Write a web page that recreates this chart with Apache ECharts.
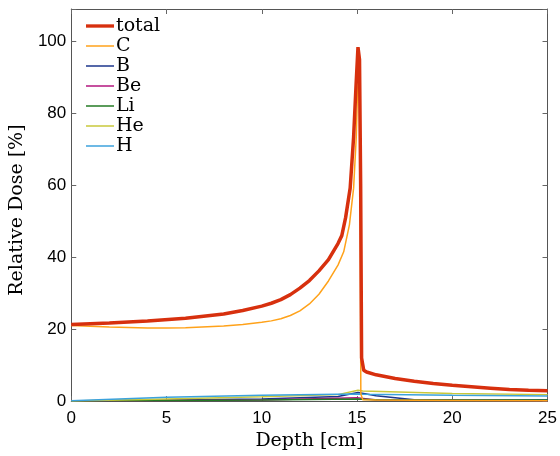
<!DOCTYPE html>
<html><head><meta charset="utf-8">
<script src="https://cdn.jsdelivr.net/npm/echarts@6/dist/echarts.min.js"></script>
<style>html,body{margin:0;padding:0;background:#fff}#c{width:560px;height:456px}</style>
</head><body><div id="c"></div>
<script>
var xTicks = [0, 5, 10, 15, 20, 25];
var yTicks = [0, 20, 40, 60, 80, 100];
var seriesNames = ['total', 'C', 'B', 'Be', 'Li', 'He', 'H'];

var totalDepth = [0, 2, 4, 6, 8, 9, 10, 10.5, 11, 11.5, 12, 12.5, 13, 13.5, 14, 14.2, 14.4, 14.64, 14.82, 14.95, 15.05, 15.13, 15.19, 15.24, 15.35, 15.5, 16, 17, 18, 19, 20, 21, 22, 23, 24, 25];
var totalDose  = [21.3, 21.7, 22.3, 23.0, 24.2, 25.2, 26.4, 27.2, 28.2, 29.6, 31.4, 33.5, 36.2, 39.3, 43.8, 46.0, 51.0, 59.2, 73.4, 88.0, 98.4, 95.0, 60.0, 12.0, 8.6, 8.1, 7.3, 6.3, 5.5, 4.9, 4.4, 4.0, 3.6, 3.2, 3.0, 2.9];

var cDepth = [0, 2, 4, 5, 6, 8, 9, 10, 10.5, 11, 11.5, 12, 12.5, 13, 13.5, 14, 14.3, 14.6, 14.82, 14.96, 15.02, 15.06, 15.12, 15.16, 15.2, 15.3, 16, 20, 25];
var cDose  = [21.0, 20.6, 20.3, 20.3, 20.4, 20.9, 21.3, 21.9, 22.3, 22.9, 23.8, 25.1, 27.0, 29.7, 33.4, 37.8, 41.5, 49.0, 59.2, 73.4, 85.0, 89.8, 87.0, 60.0, 2.0, 0.4, 0.3, 0.2, 0.1];

var bDepth = [0, 5, 10, 14, 15.05, 16, 18, 20, 25];
var bDose  = [0, 0.3, 0.6, 1.3, 2.4, 1.5, 0.4, 0.3, 0.3];

var beDepth = [0, 10, 15, 16, 25];
var beDose  = [0, 0.3, 0.9, 0.3, 0.2];

var liDepth = [0, 10, 15, 16, 25];
var liDose  = [0, 0.3, 0.6, 0.4, 0.3];

var heDepth = [0, 5, 10, 14, 15.05, 15.3, 20, 25];
var heDose  = [0, 0.6, 1.2, 1.8, 3.0, 2.8, 2.1, 1.8];

var hDepth = [0, 5, 10, 15, 15.3, 20, 25];
var hDose  = [0.1, 1.1, 1.6, 2.0, 1.9, 1.6, 1.4];

function pairs(xs, ys) { return xs.map(function (x, i) { return [x, ys[i]]; }); }

var colors = ['#D7300E', '#FFA21A', '#1B358C', '#B3157F', '#237A23', '#C9C83A', '#3BA2DC'];
var dataSets = [pairs(totalDepth, totalDose), pairs(cDepth, cDose), pairs(bDepth, bDose), pairs(beDepth, beDose), pairs(liDepth, liDose), pairs(heDepth, heDose), pairs(hDepth, hDose)];

var thickIcon = 'path://M0,0 M30,0 M0,8.2 L30,8.2 L30,11.8 L0,11.8 Z M0,20 M30,20';
var thinIcon  = 'path://M0,0 M30,0 M0,9.2 L30,9.2 L30,10.8 L0,10.8 Z M0,20 M30,20';

var series = seriesNames.map(function (n, i) {
  return {
    name: n, type: 'line', data: dataSets[i], symbol: 'none', smooth: false,
    xAxisIndex: 0, yAxisIndex: 0,
    z: i === 0 ? 5 : (i === 1 ? 4 : 3),
    lineStyle: { color: colors[i], width: i === 0 ? 3.5 : 1.5 },
    itemStyle: { color: colors[i] },
    animation: false
  };
});

var axisLineStyle = { show: true, onZero: false, lineStyle: { color: '#555', width: 1 } };
var tickStyle = { show: true, inside: true, length: 5, lineStyle: { color: '#666' } };
var serif = 'DejaVu Serif';

var chart = echarts.init(document.getElementById('c'), null, { renderer: 'canvas' });
chart.setOption({
  animation: false,
  grid: { left: 70, right: 12, top: 9, bottom: 47, containLabel: false },
  legend: {
    orient: 'vertical', left: 81, top: 11, itemWidth: 28, itemHeight: 20, itemGap: 0,
    data: seriesNames.map(function (n, i) { return { name: n, icon: i === 0 ? thickIcon : thinIcon }; }),
    textStyle: { fontFamily: serif, fontSize: 19, color: '#000', lineHeight: 20, padding: [0, 0, 0, -3] }
  },
  xAxis: [
    {
      type: 'value', min: 0, max: 25, interval: 5, position: 'bottom',
      name: 'Depth [cm]', nameLocation: 'middle', nameGap: 25,
      nameTextStyle: { fontFamily: serif, fontSize: 19, color: '#000' },
      axisLine: axisLineStyle, axisTick: tickStyle, splitLine: { show: false },
      axisLabel: { fontFamily: 'Liberation Sans', fontSize: 17, color: '#000', margin: 9,
        formatter: function (v) { return xTicks.indexOf(v) >= 0 ? String(v) : ''; } }
    },
    {
      type: 'value', min: 0, max: 25, interval: 5, position: 'top',
      axisLine: axisLineStyle, axisTick: tickStyle, axisLabel: { show: false }, splitLine: { show: false }
    }
  ],
  yAxis: [
    {
      type: 'value', min: 0, max: 109, interval: 20, position: 'left',
      name: 'Relative Dose [%]', nameLocation: 'middle', nameGap: 32,
      nameTextStyle: { fontFamily: serif, fontSize: 19, color: '#000', padding: [0, 10, 0, 0] },
      axisLine: axisLineStyle, axisTick: tickStyle, splitLine: { show: false },
      axisLabel: { fontFamily: 'Liberation Sans', fontSize: 17, color: '#000', margin: 5,
        formatter: function (v) { return yTicks.indexOf(v) >= 0 ? String(v) : ''; } }
    },
    {
      type: 'value', min: 0, max: 109, interval: 20, position: 'right',
      axisLine: axisLineStyle, axisTick: tickStyle, axisLabel: { show: false }, splitLine: { show: false }
    }
  ],
  series: series
});
</script>
</body></html>
